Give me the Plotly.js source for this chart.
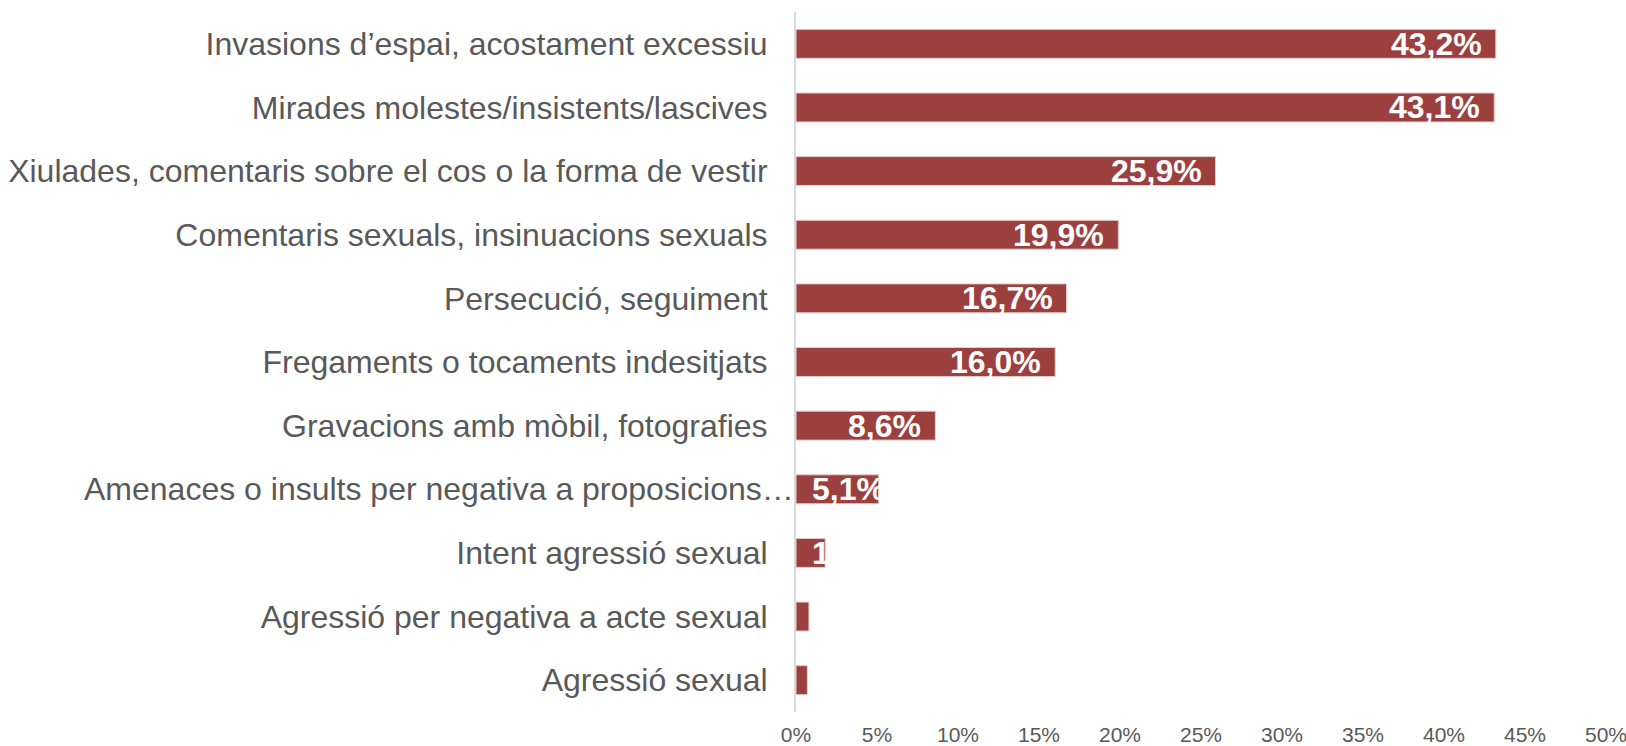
<!DOCTYPE html>
<html>
<head>
<meta charset="utf-8">
<script src="https://cdn.plot.ly/plotly-3.0.1.min.js"></script>
<style>
  html, body { margin: 0; padding: 0; background: #ffffff; }
  #chart { width: 1626px; height: 746px; }
</style>
</head>
<body>
<div id="chart"></div>
<script>
// Categories (top to bottom)
const categories = [
  "Invasions d’espai, acostament excessiu",
  "Mirades molestes/insistents/lascives",
  "Xiulades, comentaris sobre el cos o la forma de vestir",
  "Comentaris sexuals, insinuacions sexuals",
  "Persecució, seguiment",
  "Fregaments o tocaments indesitjats",
  "Gravacions amb mòbil, fotografies",
  "Amenaces o insults per negativa a proposicions…",
  "Intent agressió sexual",
  "Agressió per negativa a acte sexual",
  "Agressió sexual"
];
// Percent values
const values = [43.2, 43.1, 25.9, 19.9, 16.7, 16.0, 8.6, 5.1, 1.8, 0.8, 0.7];
// Data label texts as shown (empty = not visible)
const labels = ["43,2%", "43,1%", "25,9%", "19,9%", "16,7%", "16,0%", "8,6%", "5,1%", "1,8%", "", ""];
// Axis ticks
const tickValues = [0, 5, 10, 15, 20, 25, 30, 35, 40, 45, 50];
const tickLabels = ["0%", "5%", "10%", "15%", "20%", "25%", "30%", "35%", "40%", "45%", "50%"];
// Category whose (truncated) label runs up to the axis line, as in the original
const overflowCategory = "Amenaces o insults per negativa a proposicions…";

const FONT = "Liberation Sans, Arial, Helvetica, sans-serif";
const W = 1626, H = 746;
const margin = {l: 796, r: 20, t: 12, b: 34, pad: 0};
const xMax = 50;
const pxPerUnit = (W - margin.l - margin.r) / xMax;
const LABEL_PAD = 15;
const LABEL_SIZE = 32;

// measure label widths to decide anchoring (like Excel's inside-end behaviour)
const ctx = document.createElement("canvas").getContext("2d");
ctx.font = "bold " + LABEL_SIZE + "px 'Liberation Sans', Arial, sans-serif";

const annotations = [];
categories.forEach(function (c, i) {
  const t = labels[i];
  if (!t) return;
  const tw = ctx.measureText(t).width;
  const barPx = values[i] * pxPerUnit;
  if (barPx >= tw + 2 * LABEL_PAD) {
    annotations.push({x: values[i], y: c, xref: "x", yref: "y", text: "<b>" + t + "</b>",
      showarrow: false, xanchor: "right", yanchor: "middle", xshift: -LABEL_PAD + 2, borderpad: 0,
      font: {family: FONT, size: LABEL_SIZE, color: "#ffffff"}});
  } else {
    annotations.push({x: 0, y: c, xref: "x", yref: "y", text: "<b>" + t + "</b>",
      showarrow: false, xanchor: "left", yanchor: "middle", xshift: LABEL_PAD, borderpad: 0,
      font: {family: FONT, size: LABEL_SIZE, color: "#ffffff"}});
  }
});
// the long truncated category label, placed right up to the axis line
annotations.push({x: 0, y: overflowCategory, xref: "x", yref: "y", text: overflowCategory,
  showarrow: false, xanchor: "right", yanchor: "middle", xshift: -1, borderpad: 0,
  font: {family: FONT, size: 32, color: "#595959"}});

const catTickText = categories.map(function (c) { return c === overflowCategory ? "" : c; });

const trace = {
  type: "bar",
  orientation: "h",
  x: values,
  y: categories,
  marker: {color: "#9B403E", line: {color: "#e6cccb", width: 1}},
  hoverinfo: "x+y",
  cliponaxis: true
};

const layout = {
  width: W, height: H,
  margin: margin,
  paper_bgcolor: "#ffffff",
  plot_bgcolor: "#ffffff",
  showlegend: false,
  bargap: 0.545,
  font: {family: FONT, color: "#595959"},
  xaxis: {
    range: [0, xMax + 0.0001],
    tickvals: tickValues,
    ticktext: tickLabels,
    showgrid: false,
    zeroline: false,
    showline: false,
    ticks: "",
    ticklabelstandoff: 8,
    ticklabeloverflow: "allow",
    tickfont: {family: FONT, size: 21, color: "#595959"},
    automargin: false,
    fixedrange: true
  },
  yaxis: {
    type: "category",
    categoryorder: "array",
    categoryarray: categories,
    tickvals: categories,
    ticktext: catTickText,
    autorange: "reversed",
    showgrid: false,
    zeroline: false,
    showline: true,
    linecolor: "#d9d9d9",
    linewidth: 2,
    ticks: "",
    ticklabelstandoff: 20,
    tickfont: {family: FONT, size: 32, color: "#595959"},
    automargin: false,
    fixedrange: true
  },
  annotations: annotations
};

Plotly.newPlot("chart", [trace], layout, {displayModeBar: false, staticPlot: true});
</script>
</body>
</html>
